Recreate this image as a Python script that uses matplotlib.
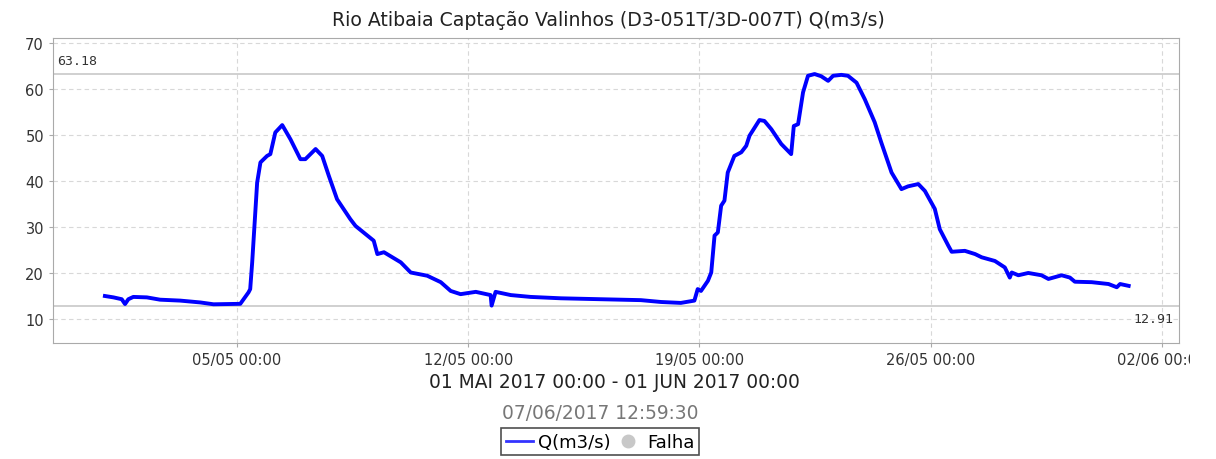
import matplotlib
matplotlib.use('Agg')
import matplotlib.pyplot as plt
from matplotlib.lines import Line2D
from matplotlib.transforms import Bbox, TransformedBbox
import pandas as pd

# dias desde 01/05/2017 00:00 e vazao
dias = [0.00, 0.26, 0.51, 0.61, 0.71, 0.86, 1.27, 1.67, 2.28, 2.89, 3.29, 4.10,
        4.35, 4.40, 4.46, 4.61, 4.71, 4.91, 5.01, 5.16, 5.37, 5.62, 5.92, 6.07,
        6.38, 6.58, 6.78, 7.03, 7.43, 7.59, 8.14, 8.25, 8.45, 8.96, 9.26, 9.76,
        10.17, 10.47, 10.77, 11.23, 11.68, 11.71, 11.83, 12.29, 12.89, 13.81,
        15.01, 16.23, 16.84, 17.44, 17.85, 17.95, 18.05, 18.26, 18.36, 18.46,
        18.56, 18.66, 18.76, 18.86, 19.06, 19.27, 19.42, 19.52, 19.82, 19.97,
        20.18, 20.48, 20.78, 20.86, 20.99, 21.14, 21.29, 21.49, 21.69, 21.90,
        22.05, 22.30, 22.50, 22.76, 23.01, 23.31, 23.51, 23.82, 24.12, 24.32,
        24.63, 24.83, 25.13, 25.28, 25.54, 25.64, 26.04, 26.35, 26.55, 26.95,
        27.25, 27.40, 27.46, 27.66, 27.96, 28.36, 28.57, 28.97, 29.22, 29.37,
        29.88, 30.39, 30.64, 30.74, 31.00]
vazao = [15.0, 14.7, 14.3, 13.25, 14.3, 14.8, 14.7, 14.2, 14.0, 13.6, 13.2, 13.3,
         15.8, 16.5, 22.3, 39.6, 44.0, 45.4, 45.8, 50.5, 52.1, 49.0, 44.7, 44.7,
         46.9, 45.4, 41.1, 36.0, 31.7, 30.2, 27.0, 24.1, 24.5, 22.3, 20.1, 19.4,
         18.0, 16.1, 15.4, 15.9, 15.2, 12.91, 15.9, 15.2, 14.8, 14.5,
         14.3, 14.1, 13.7, 13.5, 14.0, 16.5, 16.1, 18.3, 20.1, 28.1,
         28.8, 34.6, 35.7, 41.8, 45.4, 46.2, 47.6, 49.8, 53.2, 53.0,
         51.2, 48.0, 45.8, 51.9, 52.3, 59.2, 62.8, 63.18, 62.7, 61.7,
         62.8, 63.0, 62.8, 61.3, 57.7, 52.7, 48.3, 41.8, 38.2, 38.8,
         39.3, 37.8, 33.9, 29.5, 25.9, 24.6, 24.8, 24.1, 23.4, 22.6,
         21.2, 19.0, 20.1, 19.5, 20.0, 19.5, 18.7, 19.5, 19.0, 18.1,
         18.0, 17.6, 16.9, 17.6, 17.2]
v_max = 63.18
v_min = 12.91
ticks_x = pd.date_range('2017-05-05', periods=5, freq='7D')

inicio = pd.Timestamp('2017-05-01 00:00')
tempos = inicio + pd.to_timedelta(dias, unit='D')

fig = plt.figure(figsize=(12.16, 4.60), dpi=100)
ax = fig.add_axes([0.0436, 0.2522, 0.9260, 0.6630])

ax.plot(tempos, vazao, color='#0000ff', linewidth=2.8, zorder=3)

ax.axhline(v_max, color='#c8c8c8', linewidth=1.2, zorder=2)
ax.axhline(v_min, color='#c8c8c8', linewidth=1.2, zorder=2)
ax.text(0.004, v_max + 1.5, '%.2f' % v_max, transform=ax.get_yaxis_transform(),
        fontsize=9.5, family='DejaVu Sans Mono', color='#333333', va='bottom')
ax.text(0.995, v_min - 1.4, '%.2f' % v_min, transform=ax.get_yaxis_transform(),
        fontsize=9.5, family='DejaVu Sans Mono', color='#333333', ha='right', va='top')

ax.set_ylim(4.8, 71)
ax.set_yticks([10, 20, 30, 40, 50, 60, 70])
ax.set_xlim(pd.Timestamp('2017-04-29 10:18'), pd.Timestamp('2017-06-02 12:36'))
ax.set_xticks(ticks_x)
ax.set_xticklabels([t.strftime('%d/%m %H:%M') for t in ticks_x])

ax.grid(True, color='#d8d8d8', linestyle=(0, (4, 3)), linewidth=0.8)
for s in ax.spines.values():
    s.set_color('#aaaaaa')
ax.tick_params(axis='both', labelsize=10.5, colors='#aaaaaa', labelcolor='#333333',
               length=3)

# o rotulo da ultima data fica cortado na borda da imagem
corte = TransformedBbox(Bbox([[0, 0], [1190 / 1216, 1]]), fig.transFigure)
for lbl in ax.get_xticklabels():
    lbl.set_clip_box(corte)
    lbl.set_clip_on(True)

fig.text(0.5, 0.955, 'Rio Atibaia Captação Valinhos (D3-051T/3D-007T) Q(m3/s)',
         ha='center', va='center', fontsize=13.6, color='#222222')
fig.text(0.505, 0.168, '01 MAI 2017 00:00 - 01 JUN 2017 00:00',
         ha='center', va='center', fontsize=13.4, color='#222222')
fig.text(0.4935, 0.100, '07/06/2017 12:59:30',
         ha='center', va='center', fontsize=13.4, color='#777777')

itens = [Line2D([0], [0], color='#3333ff', linewidth=2),
         Line2D([0], [0], marker='o', color='none', markerfacecolor='#c8c8c8',
                markeredgecolor='#c8c8c8', markersize=9)]
leg = fig.legend(itens, ['Q(m3/s)', 'Falha'], loc='center', ncol=2,
                 bbox_to_anchor=(0.4935, 0.037), fontsize=13, frameon=True,
                 fancybox=False, handlelength=1.5, handletextpad=0.3,
                 columnspacing=0.2, borderpad=0.25)
leg.get_frame().set_edgecolor('#222222')
leg.get_frame().set_linewidth(1.2)

fig.savefig('out.png', dpi=100)
